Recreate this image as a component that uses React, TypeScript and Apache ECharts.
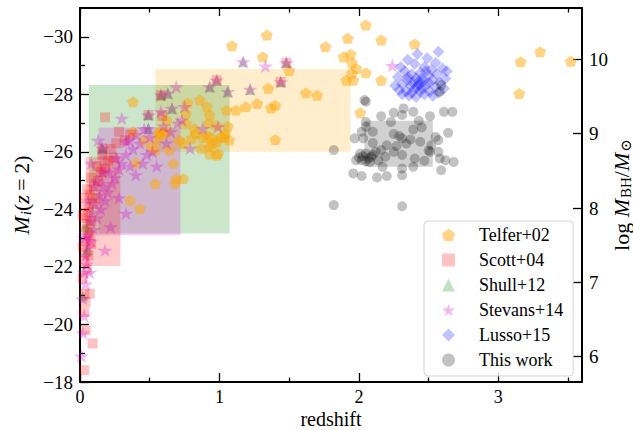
import React, { useEffect, useRef } from "react";
import * as echarts from "echarts";

// ---- data (redshift, M_i(z=2)) ----
const telfer02: number[][] = [
  [2.05, -30.41], [1.34, -30.06], [1.09, -29.69], [1.76, -29.65], [1.92, -29.95], [2.16, -29.89], [2.40, -29.75],
  [1.31, -29.30], [1.50, -28.82], [1.35, -28.21], [1.62, -28.05], [1.70, -27.97], [1.40, -27.62], [1.37, -27.52],
  [1.27, -27.68], [1.19, -27.57], [1.12, -27.45], [1.05, -27.45], [1.89, -29.30], [1.94, -29.39], [1.95, -29.10],
  [1.98, -28.90], [1.95, -28.73], [1.91, -28.49], [1.96, -28.49], [2.05, -28.75], [2.16, -28.49], [3.16, -29.13],
  [3.30, -29.48], [3.52, -29.15], [3.15, -28.03], [2.01, -27.36], [1.40, -26.43], [1.06, -26.89], [1.04, -26.64],
  [1.01, -26.52], [1.07, -26.41], [0.98, -26.35], [0.95, -26.29], [0.93, -26.17], [0.99, -25.94], [0.93, -25.92],
  [0.87, -26.12], [0.86, -27.80], [0.91, -27.57], [0.93, -27.28], [0.92, -26.99], [0.77, -27.70], [0.76, -27.34],
  [0.38, -27.74], [0.38, -26.70], [0.57, -26.70], [0.59, -26.64], [0.71, -26.41], [0.74, -26.29], [0.83, -26.64],
  [0.91, -26.58], [0.67, -25.60], [0.69, -25.07], [0.68, -24.90], [0.54, -24.90], [0.43, -24.03], [0.40, -25.62],
  [0.76, -26.99], [0.82, -26.81], [0.62, -27.10], [0.55, -26.41], [0.51, -26.17], [0.80, -26.47], [0.74, -25.07],
  [0.36, -24.32], [0.54, -26.06], [0.46, -26.41], [0.64, -26.06], [0.98, -26.92], [0.88, -26.50], [0.94, -26.50],
  [1.03, -26.50], [0.98, -25.88], [0.57, -26.64], [0.62, -26.70],
];

const scott04: number[][] = [
  [0.03, -18.41], [0.09, -19.34], [0.04, -19.80], [0.03, -20.43], [0.04, -20.78], [0.03, -21.07], [0.07, -21.07],
  [0.02, -21.60], [0.05, -21.90], [0.03, -22.20], [0.06, -22.40], [0.02, -22.70], [0.04, -22.90], [0.07, -23.10],
  [0.03, -23.30], [0.05, -23.50], [0.08, -23.60], [0.02, -23.80], [0.06, -23.90], [0.04, -24.10], [0.09, -24.20],
  [0.03, -24.40], [0.07, -24.50], [0.11, -24.40], [0.05, -24.70], [0.10, -24.80], [0.13, -25.00], [0.08, -25.10],
  [0.15, -25.30], [0.12, -25.50], [0.18, -25.40], [0.20, -25.70], [0.16, -25.90], [0.24, -25.80], [0.22, -26.10],
  [0.26, -26.30], [0.32, -26.40], [0.28, -26.70], [0.36, -26.60], [0.18, -27.20],
  [0.59, -27.25], [0.58, -27.97], [0.98, -28.49], [1.44, -28.43], [1.48, -29.10], [0.16, -26.12], [0.49, -27.28],
  [0.04, -22.50], [0.06, -23.20], [0.03, -23.70], [0.08, -22.80],
];

const shull12: number[][] = [
  [0.63, -28.03], [0.58, -27.97], [0.98, -28.49], [0.93, -28.26], [1.06, -28.09], [1.22, -28.17], [0.66, -27.51],
  [0.49, -27.28], [0.49, -26.81], [0.16, -26.12], [1.17, -29.13], [1.48, -29.10], [1.44, -28.43], [0.02, -21.00],
  [0.05, -22.60], [0.04, -23.40],
];

const stevans14: number[][] = [
  [0.63, -28.03], [0.58, -27.97], [0.98, -28.49], [0.93, -28.26], [1.06, -28.09], [1.22, -28.17], [0.66, -27.51],
  [0.49, -27.28], [0.49, -26.81], [0.16, -26.12], [1.17, -29.13], [1.48, -29.10], [1.44, -28.43], [1.33, -28.98],
  [2.24, -29.00], [0.30, -27.16], [0.69, -28.26], [0.79, -26.12], [0.88, -26.81], [0.73, -27.10], [0.33, -26.35],
  [0.99, -26.87], [0.75, -27.57], [0.01, -18.90], [0.02, -19.70], [0.03, -20.30], [0.02, -20.90], [0.04, -21.40],
  [0.03, -21.80], [0.05, -22.10], [0.04, -22.40], [0.06, -22.70], [0.08, -22.90], [0.05, -23.10], [0.10, -23.30],
  [0.07, -23.60], [0.12, -23.70], [0.09, -23.90], [0.15, -24.00], [0.11, -24.20], [0.18, -24.30], [0.14, -24.50],
  [0.20, -24.60], [0.17, -24.80], [0.23, -24.90], [0.25, -25.10], [0.21, -25.30], [0.28, -25.40], [0.30, -25.60],
  [0.26, -25.80], [0.33, -25.90], [0.36, -25.50], [0.38, -26.10], [0.35, -26.40], [0.40, -26.60], [0.43, -26.30],
  [0.46, -26.80], [0.50, -26.50], [0.48, -25.90], [0.55, -25.50], [0.60, -26.90], [0.58, -27.40], [0.65, -26.70],
  [0.70, -27.00], [0.18, -22.58], [0.33, -23.86], [0.22, -23.39], [0.13, -26.40], [0.08, -25.60], [0.12, -25.00],
  [0.28, -24.40], [0.40, -25.20], [0.45, -25.60], [0.52, -26.00], [0.62, -26.30], [0.06, -24.30], [0.10, -24.80],
  [0.16, -25.30], [0.07, -21.80], [0.03, -23.00],
];

const lusso15: number[][] = [
  [2.57, -29.48], [2.42, -29.40], [2.49, -29.25], [2.35, -29.20], [2.55, -29.10], [2.30, -28.95], [2.40, -29.05],
  [2.47, -28.95], [2.52, -28.85], [2.60, -28.90], [2.33, -28.80], [2.38, -28.70], [2.44, -28.75], [2.50, -28.65],
  [2.56, -28.70], [2.62, -28.55], [2.28, -28.60], [2.35, -28.50], [2.41, -28.55], [2.46, -28.45], [2.53, -28.50],
  [2.58, -28.40], [2.31, -28.35], [2.37, -28.30], [2.43, -28.35], [2.48, -28.30], [2.55, -28.25], [2.61, -28.20],
  [2.29, -28.15], [2.34, -28.10], [2.40, -28.20], [2.45, -28.20], [2.51, -28.10], [2.57, -28.05], [2.31, -28.00],
  [2.36, -27.95], [2.41, -27.91], [2.47, -28.00], [2.53, -27.95], [2.43, -28.45], [2.39, -28.40], [2.45, -28.55],
  [2.42, -28.25], [2.50, -28.40], [2.26, -28.30], [2.63, -28.80], [2.35, -28.60], [2.48, -28.80], [2.44, -28.10],
  [2.38, -28.05],
];

const thisWork: number[][] = [
  [2.05, -27.74], [2.32, -27.51], [2.25, -27.36], [2.16, -27.24], [2.39, -27.39], [2.51, -27.24], [2.61, -27.39],
  [2.67, -27.39], [2.31, -27.28], [2.05, -27.04], [2.23, -27.04], [2.43, -27.08], [2.10, -26.70], [2.25, -26.62],
  [2.39, -26.78], [2.45, -26.85], [2.64, -26.66], [2.02, -26.70], [1.97, -26.47], [2.03, -26.47], [2.55, -26.52],
  [2.57, -26.41], [2.37, -26.43], [2.31, -26.47], [2.10, -26.31], [2.20, -26.23], [2.27, -26.20], [2.34, -26.29],
  [2.52, -26.23], [2.16, -26.06], [2.25, -26.00], [2.31, -25.89], [2.51, -26.00], [2.57, -26.00], [2.01, -25.94],
  [2.05, -25.94], [2.09, -25.83], [2.02, -25.71], [2.08, -25.65], [1.98, -25.71], [2.14, -25.71], [2.19, -25.83],
  [2.40, -25.77], [2.47, -25.69], [2.62, -25.71], [2.68, -25.65], [2.58, -25.77], [2.17, -25.48], [2.31, -25.42],
  [2.39, -25.48], [2.59, -25.36], [1.96, -25.25], [2.02, -25.16], [2.13, -25.11], [2.20, -25.16], [2.31, -25.19],
  [2.05, -26.87], [1.82, -26.06], [1.82, -24.15], [2.31, -24.11], [2.03, -25.85], [2.07, -25.78], [2.05, -25.68],
  [2.10, -25.90], [2.00, -25.80], [2.12, -26.00], [2.58, -28.09], [2.59, -28.32], [2.04, -27.80], [2.29, -26.55],
  [2.44, -26.35], [2.50, -26.05],
];

// shaded ranges: [zMin, zMax, Mbright, Mfaint]
const telferBox = [0.54, 1.94, -28.88, -26.0];
const shullBox = [0.063, 1.073, -28.32, -23.16];
const stevansBox = [0.133, 0.72, -26.85, -23.1];
const scottBox = [0.04, 0.29, -25.83, -22.03];
const thisWorkBox = [2.04, 2.53, -27.08, -25.48];

const xMajor = [0, 1, 2, 3];
const xMinor = [0.5, 1.5, 2.5, 3.5];
const yMajor = [-30, -28, -26, -24, -22, -20, -18];
const yMinor = [-29, -27, -25, -23, -21, -19];
const rMajor = [6, 7, 8, 9, 10];

const seriesNames = ["Telfer+02", "Scott+04", "Shull+12", "Stevans+14", "Lusso+15", "This work"];

const FONT = '"Liberation Serif", "DejaVu Serif", serif';
const PENTAGON = "path://M0,-1L0.951,-0.309L0.588,0.809L-0.588,0.809L-0.951,-0.309Z";
const STAR =
  "path://M0,-1L0.2245,-0.309L0.951,-0.309L0.363,0.118L0.588,0.809L0,0.382L-0.588,0.809L-0.363,0.118L-0.951,-0.309L-0.2245,-0.309Z";

const minus = (v: number) => String(v).replace("-", "\u2212");

function box(b: number[], color: string) {
  return [
    { coord: [b[0], b[2]], itemStyle: { color } },
    { coord: [b[1], b[3]] },
  ];
}

export default function App() {
  const ref = useRef<HTMLDivElement>(null);
  useEffect(() => {
    if (!ref.current) return;
    const chart = echarts.init(ref.current, null, { renderer: "svg" });
    const axisCommon = (pos: string) => ({
      type: "value",
      position: pos,
      splitLine: { show: false },
    });
    const tickStyle = { color: "#000", width: 1.3 };
    const nameRich = (subItalic: boolean) => ({
      it: { fontFamily: FONT, fontSize: 22, fontStyle: "italic", color: "#000" },
      rm: { fontFamily: FONT, fontSize: 22, color: "#000" },
      sub: {
        fontFamily: FONT,
        fontSize: 15,
        fontStyle: subItalic ? "italic" : "normal",
        color: "#000",
        padding: [9, 0, 0, 1],
      },
    });
    const option: any = {
      animation: false,
      backgroundColor: "#fff",
      grid: { left: 80, right: 51, top: 8, bottom: 48, containLabel: false, outerBoundsMode: "none" },
      xAxis: [
        {
          ...axisCommon("bottom"),
          min: 0,
          max: 3.6,
          axisLine: { show: true, onZero: false, lineStyle: { color: "#000", width: 2 } },
          axisTick: { show: true, inside: true, length: 9, lineStyle: tickStyle, customValues: xMajor },
          axisLabel: {
            customValues: xMajor,
            fontFamily: FONT,
            fontSize: 18,
            lineHeight: 18,
            color: "#000",
            margin: 6,
          },
          name: "redshift",
          nameLocation: "middle",
          nameGap: 27,
          nameMoveOverlap: false,
          nameTextStyle: { fontFamily: FONT, fontSize: 20, lineHeight: 19, color: "#000" },
        },
        {
          ...axisCommon("bottom"),
          min: 0,
          max: 3.6,
          axisLine: { show: false },
          axisTick: { show: true, inside: true, length: 4.5, lineStyle: tickStyle, customValues: xMinor },
          axisLabel: { show: false },
        },
        {
          ...axisCommon("top"),
          min: 0,
          max: 3.6,
          axisLine: { show: true, onZero: false, lineStyle: { color: "#000", width: 2 } },
          axisTick: { show: true, inside: true, length: 8, lineStyle: tickStyle, customValues: xMajor },
          axisLabel: { show: false },
        },
        {
          ...axisCommon("top"),
          min: 0,
          max: 3.6,
          axisLine: { show: false },
          axisTick: { show: true, inside: true, length: 4.5, lineStyle: tickStyle, customValues: xMinor },
          axisLabel: { show: false },
        },
      ],
      yAxis: [
        {
          ...axisCommon("left"),
          inverse: true,
          min: -31,
          max: -18,
          axisLine: { show: true, onZero: false, lineStyle: { color: "#000", width: 2 } },
          axisTick: { show: true, inside: true, length: 9, lineStyle: tickStyle, customValues: yMajor },
          axisLabel: {
            customValues: yMajor,
            formatter: (v: number) => minus(v),
            fontFamily: FONT,
            fontSize: 19,
            color: "#000",
            margin: 7,
          },
          name: "{it|M}{sub|i}{rm|(}{it|z}{rm|\u2009=\u20092)}",
          nameLocation: "middle",
          nameRotate: 90,
          nameGap: 47,
          nameMoveOverlap: false,
          nameTextStyle: { fontFamily: FONT, fontSize: 22, color: "#000", rich: nameRich(true) },
        },
        {
          ...axisCommon("left"),
          inverse: true,
          min: -31,
          max: -18,
          axisLine: { show: false },
          axisTick: { show: true, inside: true, length: 5, lineStyle: tickStyle, customValues: yMinor },
          axisLabel: { show: false },
        },
        {
          ...axisCommon("right"),
          min: 5.66,
          max: 10.69,
          axisLine: { show: true, onZero: false, lineStyle: { color: "#000", width: 2 } },
          axisTick: { show: true, inside: true, length: 9, lineStyle: tickStyle, customValues: rMajor },
          axisLabel: { customValues: rMajor, fontFamily: FONT, fontSize: 19, color: "#000", margin: 7 },
          name: "{rm|log }{it|M}{sub|BH}{rm|/}{it|M}{sub|\u2299}",
          nameLocation: "middle",
          nameRotate: 90,
          nameGap: 27,
          nameMoveOverlap: false,
          nameTextStyle: { fontFamily: FONT, fontSize: 22, color: "#000", rich: nameRich(false) },
        },
      ],
      legend: {
        orient: "vertical",
        left: 424,
        top: 221,
        data: seriesNames,
        itemWidth: 13,
        itemHeight: 13,
        itemGap: 7,
        textStyle: { fontFamily: FONT, fontSize: 18, color: "#000", padding: [0, 0, 0, 19] },
        backgroundColor: "rgba(255,255,255,0.8)",
        borderColor: "#d5d5d5",
        borderWidth: 1,
        borderRadius: 4,
        padding: [5, 10, 7, 18],
      },
      series: [
        {
          name: "boxes",
          type: "scatter",
          data: [],
          z: 1,
          silent: true,
          markArea: {
            silent: true,
            data: [
              box(telferBox, "rgba(255,165,0,0.2)"),
              box(shullBox, "rgba(0,128,0,0.2)"),
              box(stevansBox, "rgba(220,0,220,0.2)"),
              box(scottBox, "rgba(255,0,0,0.2)"),
              box(thisWorkBox, "rgba(0,0,0,0.18)"),
            ],
          },
        },
        {
          name: "Telfer+02",
          type: "scatter",
          data: telfer02,
          symbol: PENTAGON,
          symbolKeepAspect: true,
          symbolSize: [12, 11.5],
          itemStyle: { color: "rgba(255,165,0,0.6)" },
          z: 2,
        },
        {
          name: "Scott+04",
          type: "scatter",
          data: scott04,
          symbol: "rect",
          symbolSize: 10,
          itemStyle: { color: "rgba(255,0,0,0.3)" },
          z: 2,
        },
        {
          name: "Shull+12",
          type: "scatter",
          data: shull12,
          symbol: "triangle",
          symbolSize: 11,
          itemStyle: { color: "rgba(0,128,0,0.3)" },
          z: 2,
        },
        {
          name: "Stevans+14",
          type: "scatter",
          data: stevans14,
          symbol: STAR,
          symbolKeepAspect: true,
          symbolSize: [15, 14.3],
          itemStyle: { color: "rgba(205,0,205,0.35)" },
          z: 2,
        },
        {
          name: "Lusso+15",
          type: "scatter",
          data: lusso15,
          symbol: "diamond",
          symbolSize: 12,
          itemStyle: { color: "rgba(0,0,255,0.3)" },
          z: 2,
        },
        {
          name: "This work",
          type: "scatter",
          data: thisWork,
          symbol: "circle",
          symbolSize: 10,
          itemStyle: { color: "rgba(0,0,0,0.3)" },
          z: 2,
        },
      ],
    };
    chart.setOption(option);
    return () => chart.dispose();
  }, []);
  return (
    <div
      ref={ref}
      style={{ position: "fixed", left: 0, top: 0, width: 633, height: 430, background: "#fff" }}
    />
  );
}
